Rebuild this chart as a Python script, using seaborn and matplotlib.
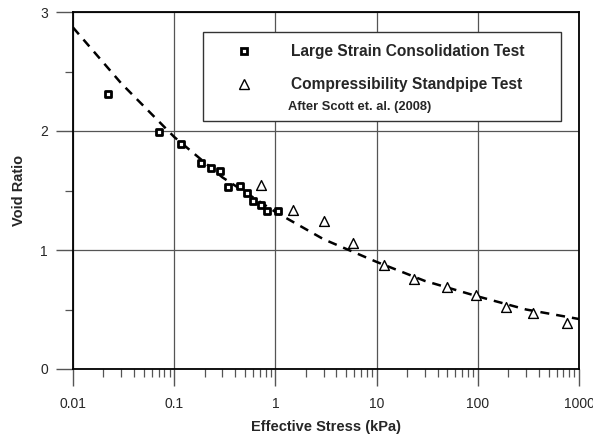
import matplotlib
matplotlib.use("Agg")
import matplotlib.pyplot as plt
import seaborn as sns
import pandas as pd
import numpy as np
from matplotlib.lines import Line2D
from matplotlib.patches import Rectangle
from matplotlib.ticker import LogLocator, FixedLocator, NullFormatter

# Data
lsc_stress = [0.022, 0.070, 0.118, 0.182, 0.233, 0.286, 0.343, 0.451, 0.525, 0.605, 0.72, 0.83, 1.07]
lsc_void = [2.31, 1.99, 1.89, 1.73, 1.69, 1.66, 1.53, 1.54, 1.48, 1.41, 1.38, 1.33, 1.33]

csp_stress = [0.72, 1.50, 3.02, 5.83, 11.8, 23.2, 49.2, 96.9, 191, 350, 760]
csp_void = [1.55, 1.34, 1.24, 1.06, 0.87, 0.76, 0.69, 0.62, 0.52, 0.47, 0.39]

fit_stress = [0.01, 0.03, 0.1, 0.3, 1, 3, 10, 30, 100, 300, 1000]
fit_void = [2.87, 2.40, 1.95, 1.61, 1.32, 1.09, 0.90, 0.74, 0.61, 0.50, 0.42]

x_ticks = [0.01, 0.1, 1, 10, 100, 1000]
x_ticklabels = ["0.01", "0.1", "1", "10", "100", "1000"]
y_ticks = [0, 1, 2, 3]

sns.set_style("white")
plt.rcParams["font.family"] = ["Liberation Sans", "DejaVu Sans"]

fig = plt.figure(figsize=(5.93, 4.38), dpi=100)
ax = fig.add_axes([73/593, 1 - 369/438, (579-73)/593, (369-12)/438])

ax.set_xscale("log")
ax.set_xlim(0.01, 1000)
ax.set_ylim(0, 3)

fit_df = pd.DataFrame({"stress": fit_stress, "void": fit_void})
sns.lineplot(data=fit_df, x="stress", y="void", ax=ax, color="black", lw=1.8,
             dashes=False, zorder=3)
ax.lines[-1].set_dashes((3.6, 2.8))

lsc_df = pd.DataFrame({"stress": lsc_stress, "void": lsc_void})
csp_df = pd.DataFrame({"stress": csp_stress, "void": csp_void})
sns.scatterplot(data=lsc_df, x="stress", y="void", ax=ax, marker="s", s=19,
                facecolor="white", edgecolor="black", linewidth=2.0, zorder=4)
sns.scatterplot(data=csp_df, x="stress", y="void", ax=ax, marker="^", s=50,
                facecolor="white", edgecolor="black", linewidth=1.0, zorder=4)

ax.xaxis.set_major_locator(FixedLocator(x_ticks))
ax.set_xticklabels(x_ticklabels)
ax.xaxis.set_minor_locator(LogLocator(base=10, subs=np.arange(2, 10)))
ax.xaxis.set_minor_formatter(NullFormatter())
ax.yaxis.set_major_locator(FixedLocator(y_ticks))
ax.yaxis.set_minor_locator(FixedLocator([0.5, 1.5, 2.5]))

ax.tick_params(axis="both", which="both", bottom=True, left=True, top=False, right=False)
ax.tick_params(axis="both", which="major", direction="out", length=12, width=1.0,
               color="#555555", labelsize=10)
ax.tick_params(axis="x", which="major", pad=8)
ax.tick_params(axis="y", which="major", pad=6)
ax.tick_params(axis="both", which="minor", direction="out", length=6, width=0.9,
               color="#555555")

ax.grid(True, which="major", color="#555555", lw=0.9)
ax.set_axisbelow(True)
for s in ax.spines.values():
    s.set_color("black")
    s.set_linewidth(1.3)
    s.set_visible(True)

ax.set_xlabel("Effective Stress (kPa)", fontsize=10.5, fontweight="bold", labelpad=7)
ax.set_ylabel("Void Ratio", fontsize=10.5, fontweight="bold", labelpad=10)

# Legend box
ax.add_patch(Rectangle((0.257, 0.6947), 0.7075, 0.2493, transform=ax.transAxes,
                       facecolor="white", edgecolor="#333333", lw=1.0, zorder=5))
handles = [
    Line2D([], [], ls="none", marker="s", ms=4.4, mfc="white", mec="black", mew=2.0),
    Line2D([], [], ls="none", marker="^", ms=7, mfc="white", mec="black", mew=1.0),
]
labels = ["Large Strain Consolidation Test", "Compressibility Standpipe Test"]
leg = ax.legend(handles, labels, loc="upper left",
                bbox_to_anchor=(0.322, 0.909), borderaxespad=0, borderpad=0,
                frameon=False, handlelength=1.0, handletextpad=2.55,
                labelspacing=1.15, prop={"weight": "bold", "size": 11.2})
leg.set_zorder(6)
ax.text(0.425, 0.734, "After Scott et. al. (2008)", transform=ax.transAxes,
        fontsize=9.3, fontweight="bold", ha="left", va="center", zorder=6)

fig.savefig("out.png", dpi=100)
